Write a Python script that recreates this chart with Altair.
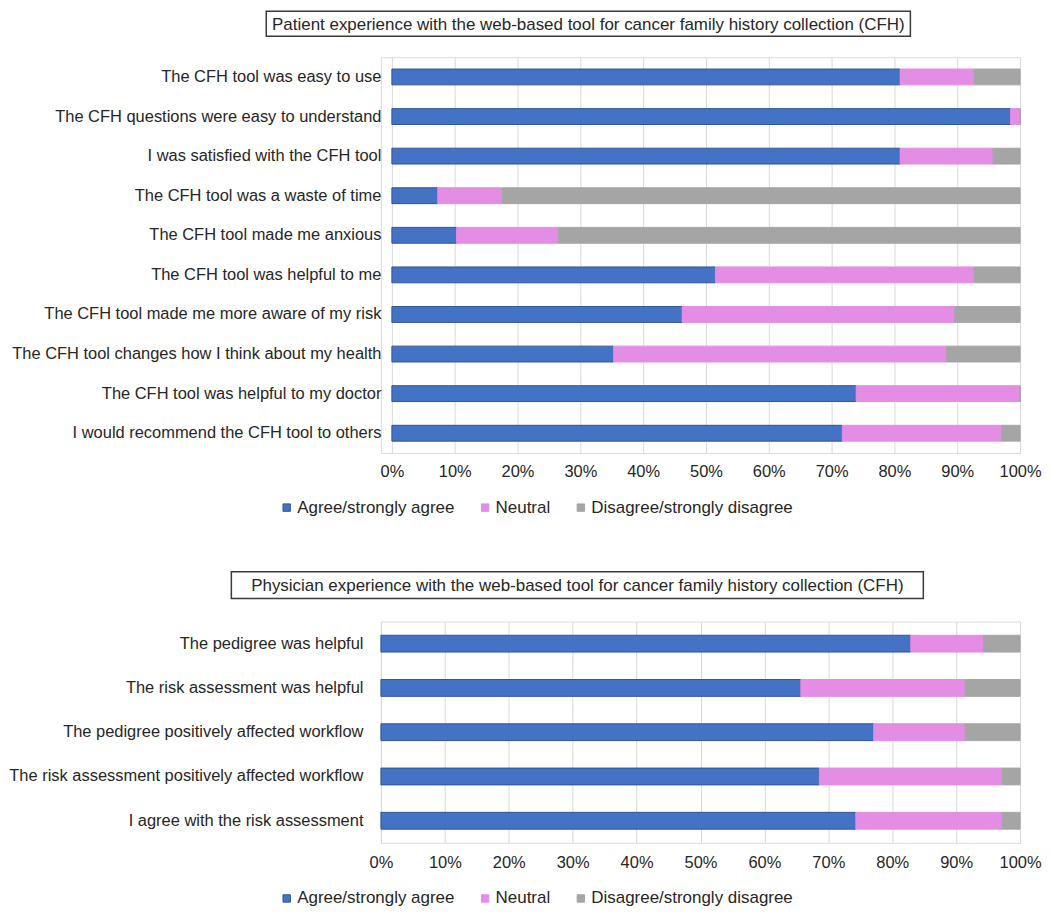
import altair as alt
import pandas as pd

FONT = "Liberation Sans"

responses = ["Agree/strongly agree", "Neutral", "Disagree/strongly disagree"]
fill_colors = ["#4472C4", "#E38DE4", "#A5A5A5"]
stroke_colors = ["#2F5597", "#E38DE4", "#A5A5A5"]
tick_values = [0, 10, 20, 30, 40, 50, 60, 70, 80, 90, 100]

patient_title = "Patient experience with the web-based tool for cancer family history collection (CFH)"
patient_items = [
    "The CFH tool was easy to use",
    "The CFH questions were easy to understand",
    "I was satisfied with the CFH tool",
    "The CFH tool was a waste of time",
    "The CFH tool made me anxious",
    "The CFH tool was helpful to me",
    "The CFH tool made me more aware of my risk",
    "The CFH tool changes how I think about my health",
    "The CFH tool was helpful to my doctor",
    "I would recommend the CFH tool to others",
]
patient_agree = [80.9, 98.5, 80.9, 7.3, 10.3, 51.5, 46.2, 35.3, 73.9, 71.7]
patient_neutral = [11.8, 1.5, 14.8, 10.3, 16.2, 41.2, 43.4, 53.0, 26.1, 25.4]
patient_disagree = [7.3, 0.0, 4.3, 82.4, 73.5, 7.3, 10.4, 11.7, 0.0, 2.9]

physician_title = "Physician experience with the web-based tool for cancer family history collection (CFH)"
physician_items = [
    "The pedigree was helpful",
    "The risk assessment was helpful",
    "The pedigree positively affected workflow",
    "The risk assessment positively affected workflow",
    "I agree with the risk assessment",
]
physician_agree = [82.9, 65.7, 77.1, 68.6, 74.3]
physician_neutral = [11.4, 25.7, 14.3, 28.6, 22.9]
physician_disagree = [5.7, 8.6, 8.6, 2.8, 2.8]


def long_table(items, agree, neutral, disagree):
    rows = []
    for i, item in enumerate(items):
        for k, (resp, val) in enumerate(zip(responses, [agree[i], neutral[i], disagree[i]])):
            rows.append({"item": item, "response": resp, "value": val, "order": k})
    return pd.DataFrame(rows)


def panel(items, agree, neutral, disagree, title, width, height, pad_inner,
          label_pad, x_label_pad, x_range, box, legend_x, legend_y):
    df = long_table(items, agree, neutral, disagree)
    if x_range is not None:
        xscale = alt.Scale(domain=[0, 100], nice=False, range=x_range)
    else:
        xscale = alt.Scale(domain=[0, 100], nice=False)
    bars = alt.Chart(df).mark_bar(strokeWidth=1).encode(
        x=alt.X(
            "value:Q",
            stack="zero",
            scale=xscale,
            axis=alt.Axis(
                title=None, values=tick_values, labelExpr="datum.value + '%'",
                grid=True, gridColor="#D9D9D9", gridWidth=1, ticks=False,
                domain=False, labelPadding=x_label_pad, labelFontSize=16.5,
                labelColor="#262626", labelFont=FONT, labelFlush=False,
                labelOverlap=False,
            ),
        ),
        y=alt.Y(
            "item:N", sort=items,
            scale=alt.Scale(paddingInner=pad_inner, paddingOuter=pad_inner / 2),
            axis=alt.Axis(
                title=None, ticks=False, domain=False, grid=False,
                labelPadding=label_pad, labelFontSize=16.5, labelColor="#262626",
                labelFont=FONT, labelLimit=600,
            ),
        ),
        color=alt.Color(
            "response:N",
            scale=alt.Scale(domain=responses, range=fill_colors),
            legend=alt.Legend(
                title=None, orient="none", direction="horizontal",
                legendX=legend_x, legendY=legend_y, symbolType="square",
                symbolSize=55, labelFontSize=17, labelFont=FONT,
                labelColor="#262626", columnPadding=22, labelOffset=2,
                symbolStrokeWidth=1, labelLimit=500,
            ),
        ),
        stroke=alt.Stroke(
            "response:N",
            scale=alt.Scale(domain=responses, range=stroke_colors),
            legend=None,
        ),
        order=alt.Order("order:Q"),
    ).properties(width=width, height=height)

    tdf = pd.DataFrame({"t": [title]})
    x1, x2, y1, y2 = box
    frame = alt.Chart(tdf).mark_rect(
        fillOpacity=0, stroke="#3A3A3A", strokeWidth=1.5
    ).encode(
        x=alt.value(x1), x2=alt.value(x2), y=alt.value(y1), y2=alt.value(y2)
    )
    text = alt.Chart(tdf).mark_text(
        font=FONT, fontSize=17, color="#262626", align="center", baseline="middle"
    ).encode(
        text="t:N", x=alt.value((x1 + x2) / 2), y=alt.value((y1 + y2) / 2 + 1)
    )
    return alt.layer(bars, frame, text)


top = panel(
    patient_items, patient_agree, patient_neutral, patient_disagree,
    patient_title, width=641, height=397, pad_inner=0.6, label_pad=0,
    x_label_pad=11, x_range=[11, 641], box=(-115, 531, -46, -21),
    legend_x=-103, legend_y=443,
)
bottom = panel(
    physician_items, physician_agree, physician_neutral, physician_disagree,
    physician_title, width=641, height=222, pad_inner=0.62, label_pad=18,
    x_label_pad=12, x_range=None, box=(-150, 544, -50, -23),
    legend_x=-103, legend_y=269,
)

chart = alt.ConcatChart(
    concat=[top, bottom], columns=1, spacing=53, padding=0
).resolve_scale(
    x="independent", y="independent"
).resolve_legend(
    color="independent", stroke="independent"
).configure_view(stroke=None).configure(background="white")

chart.save("out.html", embed_options={"renderer": "svg", "actions": False})
